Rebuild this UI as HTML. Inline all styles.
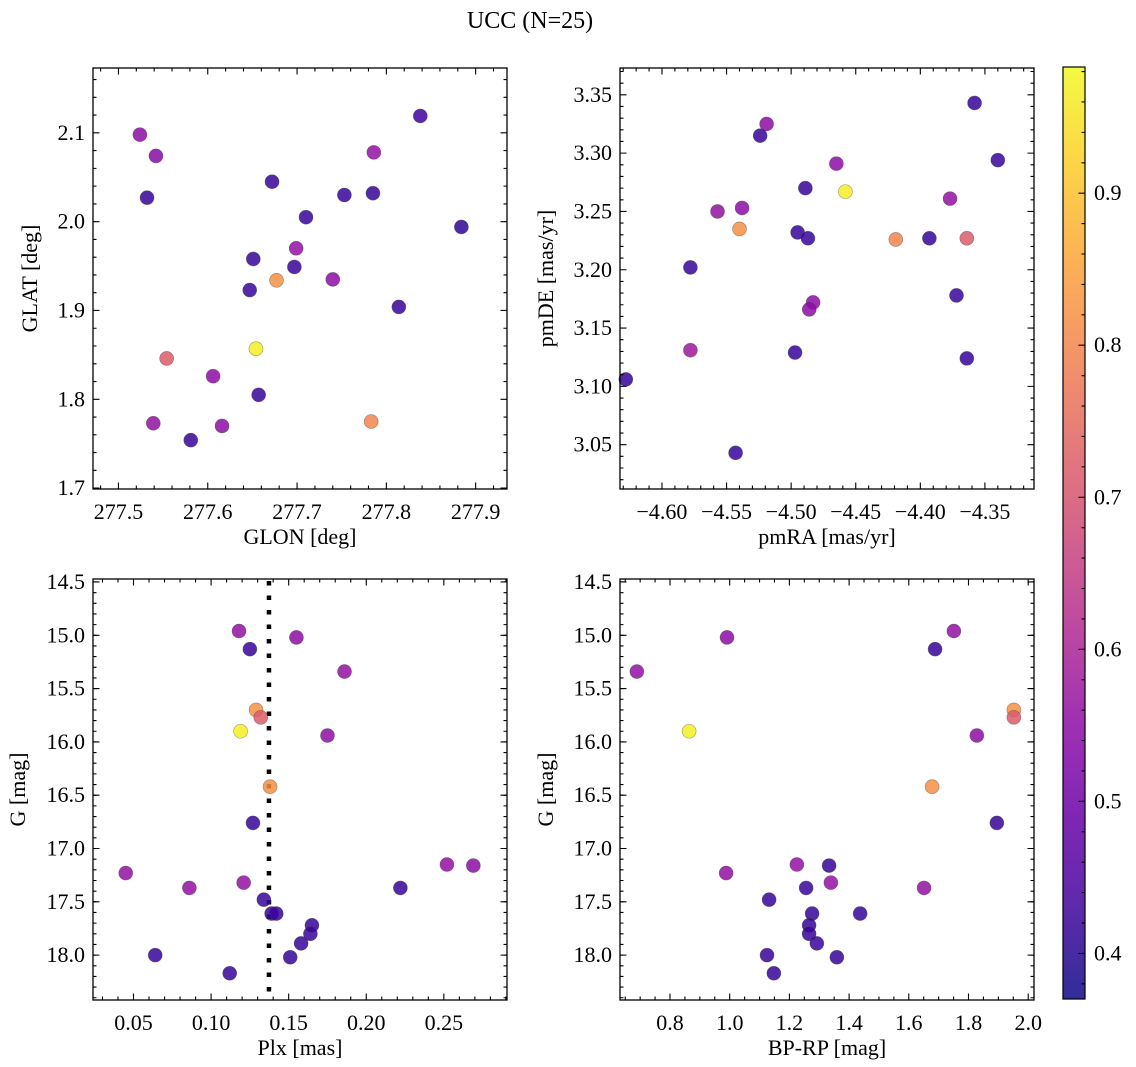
<!DOCTYPE html>
<html><head><meta charset="utf-8"><style>
body{margin:0;background:#fff;}
svg{display:block;font-family:"Liberation Serif","DejaVu Serif",serif;}
</style></head><body>
<svg id="fig" width="1136" height="1067" viewBox="0 0 1136 1067" xmlns="http://www.w3.org/2000/svg">
<text x="530" y="28" font-size="24" text-anchor="middle">UCC (N=25)</text>
</svg>
<script>
// ---- data ----
const tlGlon=[277.524,277.542,277.532,277.672,277.838,277.786,277.753,277.785,277.710,277.884,277.651,277.699,277.697,277.677,277.740,277.647,277.814,277.554,277.654,277.606,277.657,277.539,277.616,277.581,277.783];
const tlGlat=[2.098,2.074,2.027,2.045,2.119,2.078,2.030,2.032,2.005,1.994,1.958,1.970,1.949,1.934,1.935,1.923,1.904,1.846,1.857,1.826,1.805,1.773,1.770,1.754,1.775];
const tlC=[0.55,0.54,0.42,0.42,0.43,0.56,0.42,0.42,0.42,0.41,0.42,0.56,0.42,0.82,0.55,0.42,0.42,0.72,0.97,0.55,0.42,0.56,0.55,0.42,0.80];
const trPmra=[-4.519,-4.524,-4.358,-4.340,-4.465,-4.489,-4.458,-4.557,-4.538,-4.377,-4.540,-4.495,-4.487,-4.419,-4.393,-4.364,-4.578,-4.372,-4.483,-4.486,-4.578,-4.497,-4.364,-4.628,-4.543];
const trPmde=[3.325,3.315,3.343,3.294,3.291,3.270,3.267,3.250,3.253,3.261,3.235,3.232,3.227,3.226,3.227,3.227,3.202,3.178,3.172,3.166,3.131,3.129,3.124,3.106,3.043];
const trC=[0.55,0.42,0.42,0.42,0.55,0.42,0.97,0.56,0.55,0.56,0.82,0.42,0.42,0.80,0.42,0.72,0.42,0.42,0.55,0.55,0.58,0.42,0.42,0.42,0.42];
const blPlx=[0.118,0.155,0.125,0.186,0.129,0.132,0.119,0.175,0.138,0.127,0.045,0.252,0.269,0.121,0.086,0.222,0.134,0.139,0.142,0.165,0.164,0.158,0.151,0.064,0.112];
const gMag=[14.96,15.02,15.13,15.34,15.70,15.77,15.90,15.94,16.42,16.76,17.23,17.15,17.16,17.32,17.37,17.37,17.48,17.61,17.61,17.72,17.80,17.89,18.02,18.00,18.17];
const blC=[0.56,0.55,0.42,0.56,0.82,0.72,0.97,0.55,0.82,0.42,0.56,0.56,0.55,0.56,0.56,0.42,0.42,0.42,0.42,0.42,0.42,0.42,0.42,0.42,0.42];
const brBprp=[1.751,0.991,1.688,0.689,1.952,1.952,0.864,1.828,1.678,1.895,0.988,1.225,1.333,1.339,1.651,1.256,1.132,1.276,1.437,1.266,1.266,1.292,1.359,1.125,1.148];
const brG=[14.96,15.02,15.13,15.34,15.70,15.77,15.90,15.94,16.42,16.76,17.23,17.15,17.16,17.32,17.37,17.37,17.48,17.61,17.61,17.72,17.80,17.89,18.02,18.00,18.17];
const brC=[0.56,0.55,0.42,0.56,0.82,0.72,0.97,0.55,0.82,0.42,0.56,0.56,0.42,0.56,0.56,0.42,0.42,0.42,0.42,0.42,0.42,0.42,0.42,0.42,0.42];
const plxLine=0.1373;
const tlXTicks=[277.5,277.6,277.7,277.8,277.9];
const tlYTicks=[1.7,1.8,1.9,2.0,2.1];
const trXTicks=[-4.60,-4.55,-4.50,-4.45,-4.40,-4.35];
const trYTicks=[3.05,3.10,3.15,3.20,3.25,3.30,3.35];
const blXTicks=[0.05,0.10,0.15,0.20,0.25];
const gTicks=[14.5,15.0,15.5,16.0,16.5,17.0,17.5,18.0];
const brXTicks=[0.8,1.0,1.2,1.4,1.6,1.8,2.0];
const cbTicks=[0.4,0.5,0.6,0.7,0.8,0.9];
const cMin=0.370,cMax=0.983;

const FS=22;
const NS="http://www.w3.org/2000/svg";
const svg=document.getElementById('fig');
function mk(tag,attrs,parent){const e=document.createElementNS(NS,tag);for(const k in attrs)e.setAttribute(k,attrs[k]);(parent||svg).appendChild(e);return e;}
const stops=["#0d0887","#41049d","#6a00a8","#8f0da4","#b12a90","#cc4778","#e16462","#f2844b","#fca636","#fcce25","#f0f921"];
function hex(h){return[parseInt(h.substr(1,2),16),parseInt(h.substr(3,2),16),parseInt(h.substr(5,2),16)];}
function plasma(t){t=Math.max(0,Math.min(1,t));const p=t*10,i=Math.min(9,Math.floor(p)),f=p-i;const a=hex(stops[i]),b=hex(stops[i+1]);return`rgb(${a.map((v,k)=>Math.round(v+(b[k]-v)*f)).join(',')})`;}
function cval(c){return plasma((c-cMin)/(cMax-cMin));}
function fmt(v,d){return v.toFixed(d).replace('-','\u2212');}

function panel(o){
  const g=mk('g',{});
  
  
  const sx=v=>o.x0+(v-o.xmin)/(o.xmax-o.xmin)*(o.x1-o.x0);
  const sy=v=>o.y1-(v-o.ymin)/(o.ymax-o.ymin)*(o.y1-o.y0);
  if(o.vline!==undefined){const l=mk('line',{x1:sx(o.vline),x2:sx(o.vline),y1:o.y0+2,y2:o.y1,stroke:'#000','stroke-width':4.5,'stroke-dasharray':'4.5 10'},g);
    }
  for(let i=0;i<o.xs.length;i++){
    const c=mk('circle',{cx:sx(o.xs[i]),cy:sy(o.ys[i]),r:7,fill:cval(o.cs[i]),'fill-opacity':0.85,stroke:'rgba(60,60,60,0.5)','stroke-width':0.6},g);
    
    
  }
  mk('rect',{x:o.x0,y:o.y0,width:o.x1-o.x0,height:o.y1-o.y0,fill:'none',stroke:'#000','stroke-width':1.3},g);
  const tk=[];
  for(let v=Math.ceil(o.xmin/o.xminor-1e-6)*o.xminor;v<=o.xmax;v+=o.xminor){const X=sx(v);tk.push(`M${X},${o.y1}v-3.5M${X},${o.y0}v3.5`);}
  for(let v=Math.ceil(o.ymin/o.yminor-1e-6)*o.yminor;v<=o.ymax;v+=o.yminor){const Y=sy(v);tk.push(`M${o.x0},${Y}h3.5M${o.x1},${Y}h-3.5`);}
  o.xt.forEach(v=>{const X=sx(v);tk.push(`M${X},${o.y1}v-6.5M${X},${o.y0}v6.5`);
    const t=mk('text',{x:X,y:o.y1+30,'font-size':FS,'text-anchor':'middle'},g);t.textContent=fmt(v,o.xd);
    });
  o.yt.forEach(v=>{const Y=sy(v);tk.push(`M${o.x0},${Y}h6.5M${o.x1},${Y}h-6.5`);
    const t=mk('text',{x:o.x0-8,y:Y+7,'font-size':FS,'text-anchor':'end'},g);t.textContent=fmt(v,o.yd);
    });
  mk('path',{d:tk.join(''),stroke:'#000','stroke-width':1.1,fill:'none'},g);
  const xl=mk('text',{x:(o.x0+o.x1)/2,y:o.y1+55,'font-size':FS,'text-anchor':'middle'},g);xl.textContent=o.xlabel;
  
  const yl=mk('text',{x:0,y:0,'font-size':FS,'text-anchor':'middle',transform:`translate(${o.ylx},${(o.y0+o.y1)/2}) rotate(-90)`},g);yl.textContent=o.ylabel;
  
}
panel({name:'glon-glat-panel',x0:93,x1:507,y0:68,y1:489,xmin:277.4715,xmax:277.9351,ymin:1.699,ymax:2.173,xminor:0.02,yminor:0.02,xt:tlXTicks,yt:tlYTicks,xd:1,yd:1,xs:tlGlon,ys:tlGlat,cs:tlC,xlabel:'GLON [deg]',ylabel:'GLAT [deg]',ylx:37});
panel({name:'pm-panel',x0:620,x1:1034,y0:68,y1:489,xmin:-4.6325,xmax:-4.312,ymin:3.012,ymax:3.373,xminor:0.01,yminor:0.01,xt:trXTicks,yt:trYTicks,xd:2,yd:2,xs:trPmra,ys:trPmde,cs:trC,xlabel:'pmRA [mas/yr]',ylabel:'pmDE [mas/yr]',ylx:553});
panel({name:'plx-g-panel',x0:93,x1:507,y0:579,y1:1000,xmin:0.0239,xmax:0.2907,ymin:-18.421,ymax:-14.472,xminor:0.01,yminor:0.1,xt:blXTicks,yt:[],xd:2,yd:1,xs:blPlx,ys:gMag.map(v=>-v),cs:blC,xlabel:'Plx [mas]',ylabel:'G [mag]',ylx:25,vline:plxLine});
panel({name:'cmd-panel',x0:620,x1:1034,y0:579,y1:1000,xmin:0.8-50/298.5,xmax:0.8+364/298.5,ymin:-18.421,ymax:-14.472,xminor:0.05,yminor:0.1,xt:brXTicks,yt:[],xd:1,yd:1,xs:brBprp,ys:brG.map(v=>-v),cs:brC,xlabel:'BP-RP [mag]',ylabel:'G [mag]',ylx:553});
[[93,'plx-g'],[620,'cmd']].forEach(([x0,n])=>{
  gTicks.forEach(v=>{const Y=579+(v-14.472)/(18.421-14.472)*421;
    const t=mk('text',{x:x0-8,y:Y+7,'font-size':FS,'text-anchor':'end'});t.textContent=v.toFixed(1);
    
    mk('path',{d:`M${x0},${Y}h6.5M${x0+414},${Y}h-6.5`,stroke:'#000','stroke-width':1.1});});
});
const cb={x0:1063,x1:1085,y0:67,y1:999};
const defs=mk('defs',{});const lg=mk('linearGradient',{id:'cbg',x1:0,y1:1,x2:0,y2:0},defs);
for(let i=0;i<=20;i++){mk('stop',{offset:i/20,'stop-color':plasma(i/20),'stop-opacity':0.85},lg);}
const cbr=mk('rect',{x:cb.x0,y:cb.y0,width:cb.x1-cb.x0,height:cb.y1-cb.y0,fill:'url(#cbg)',stroke:'#000','stroke-width':1.2});

const cy=v=>cb.y1-(v-cMin)/(cMax-cMin)*(cb.y1-cb.y0);
let cd='';
for(let v=0.38;v<cMax;v+=0.02){cd+=`M${cb.x1},${cy(v)}h-3.5`;}
cbTicks.forEach(v=>{cd+=`M${cb.x1},${cy(v)}h-6.5`;
  const t=mk('text',{x:cb.x1+9,y:cy(v)+7,'font-size':FS});t.textContent=v.toFixed(1);
  });
mk('path',{d:cd,stroke:'#000','stroke-width':1.1});
</script>
</body></html>
